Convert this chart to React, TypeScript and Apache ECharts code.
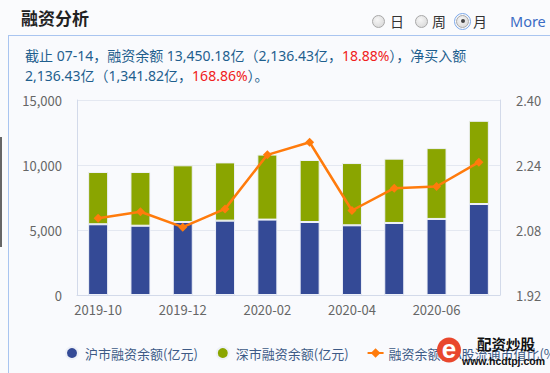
import React, { useEffect, useRef } from "react";
import * as echarts from "echarts";

const categories = ["2019-10", "2019-11", "2019-12", "2020-01", "2020-02", "2020-03", "2020-04", "2020-05", "2020-06", "2020-07"];
const shValues = [5440, 5330, 5615, 5720, 5800, 5615, 5360, 5540, 5850, 7000];
const szValues = [4020, 4130, 4360, 4480, 5000, 4770, 4790, 4950, 5450, 6400];
const ratioValues = [2.109, 2.125, 2.087, 2.132, 2.265, 2.296, 2.128, 2.183, 2.187, 2.247];
const leftTicks = { min: 0, max: 15000, interval: 5000 };
const rightTicks = { min: 1.92, max: 2.4, interval: 0.16 };

const FONT = "'Noto Sans CJK SC', 'Noto Sans', sans-serif";
const MIXED = "'Noto Sans', 'Noto Sans CJK SC', sans-serif";

function Radio({ checked }: { checked?: boolean }) {
  return (
    <span
      style={{
        display: "inline-block",
        width: 13,
        height: 13,
        borderRadius: "50%",
        border: "1px solid #a8a8a8",
        background: "radial-gradient(circle at 40% 35%, #f6f6f6, #d4d4d4)",
        position: "relative",
        verticalAlign: "middle",
        outline: checked ? "1px solid #7aa7e8" : "none",
        outlineOffset: 1,
        boxSizing: "border-box",
      }}
    >
      {checked ? (
        <span
          style={{
            position: "absolute",
            left: 3.5,
            top: 3.5,
            width: 4,
            height: 4,
            borderRadius: "50%",
            background: "#444",
          }}
        />
      ) : null}
    </span>
  );
}

export default function App() {
  const ref = useRef<HTMLDivElement>(null);
  useEffect(() => {
    if (!ref.current) return;
    const chart = echarts.init(ref.current, null, { renderer: "svg" });
    chart.setOption({
      animation: false,
      textStyle: { fontFamily: FONT },
      grid: { left: 77, right: 50, top: 100, bottom: 78 },
      legend: {
        left: 60,
        top: 341,
        width: 1000,
        itemGap: 18,
        itemWidth: 16,
        itemHeight: 12,
        textStyle: { color: "#3d5a86", fontSize: 13, fontFamily: FONT },
        data: [
          { name: "沪市融资余额(亿元)", icon: "circle" },
          { name: "深市融资余额(亿元)", icon: "circle" },
          { name: "融资余额占A股流通市值比(%)" },
        ],
      },
      xAxis: {
        type: "category",
        data: categories,
        boundaryGap: true,
        axisLine: { lineStyle: { color: "#d3daea" } },
        axisTick: { alignWithLabel: true, length: 4, lineStyle: { color: "#c8d0e2" } },
        axisLabel: { color: "#666", fontSize: 13, interval: 1, margin: 8 },
      },
      yAxis: [
        {
          type: "value",
          min: leftTicks.min,
          max: leftTicks.max,
          interval: leftTicks.interval,
          axisLine: { show: true, lineStyle: { color: "#d3daea" } },
          axisTick: { show: false },
          splitLine: { lineStyle: { color: "#e4e8f1" } },
          axisLabel: {
            color: "#666",
            fontSize: 13,
            margin: 15,
            formatter: (v: number) => v.toLocaleString("en-US"),
          },
        },
        {
          type: "value",
          min: rightTicks.min,
          max: rightTicks.max,
          interval: rightTicks.interval,
          axisLine: { show: true, lineStyle: { color: "#d3daea" } },
          axisTick: { show: false },
          splitLine: { show: false },
          axisLabel: {
            color: "#666",
            fontSize: 13,
            margin: 16,
            formatter: (v: number) => v.toFixed(2),
          },
        },
      ],
      series: [
        {
          name: "沪市融资余额(亿元)",
          type: "bar",
          stack: "total",
          data: shValues,
          barWidth: 20,
          itemStyle: { color: "#344a96", borderColor: "#eef1f8", borderWidth: 1 },
        },
        {
          name: "深市融资余额(亿元)",
          type: "bar",
          stack: "total",
          data: szValues,
          barWidth: 20,
          itemStyle: { color: "#8aa500", borderColor: "#eef1f8", borderWidth: 1 },
        },
        {
          name: "融资余额占A股流通市值比(%)",
          type: "line",
          yAxisIndex: 1,
          data: ratioValues,
          symbol: "diamond",
          symbolSize: 9,
          lineStyle: { color: "#ff7b0c", width: 2.5 },
          itemStyle: { color: "#ff7b0c" },
          z: 5,
        },
      ],
      graphic: [
        {
          type: "ellipse",
          shape: { cx: 449, cy: 350, rx: 12, ry: 12.5 },
          style: { fill: "#e9472d" },
          z: 100,
        },
        {
          type: "text",
          x: 449,
          y: 349,
          z: 101,
          style: { text: "e", fill: "#fff", fontSize: 26, fontWeight: "bold", align: "center", verticalAlign: "middle", fontFamily: "Arial" },
        },
        {
          type: "text",
          x: 477,
          y: 343,
          z: 101,
          style: { text: "配资炒股", fill: "#111", fontSize: 14.5, fontWeight: "bold", verticalAlign: "middle", fontFamily: FONT },
        },
        {
          type: "text",
          x: 462,
          y: 361,
          z: 101,
          style: { text: "www.hcdtpj.com", fill: "#111", fontSize: 10.5, fontWeight: "bold", verticalAlign: "middle", fontFamily: "Arial" },
        },
      ],
    });
    return () => chart.dispose();
  }, []);

  return (
    <div
      style={{
        position: "fixed",
        left: 0,
        top: 0,
        width: 550,
        height: 373,
        background: "#fafbfd",
        overflow: "hidden",
        fontFamily: FONT,
      }}
    >
      <div style={{ position: "absolute", left: 0, top: 137, width: 2, height: 110, background: "#666" }} />
      <div
        style={{
          position: "absolute",
          left: 21,
          top: 5,
          fontSize: 17,
          lineHeight: "26px",
          fontWeight: "bold",
          color: "#222",
        }}
      >
        融资分析
      </div>
      <div
        style={{
          position: "absolute",
          left: 372,
          top: 11,
          height: 20,
          fontSize: 14,
          color: "#333",
          display: "flex",
          alignItems: "center",
          whiteSpace: "nowrap",
        }}
      >
        <Radio />
        <span style={{ marginLeft: 5 }}>日</span>
        <span style={{ width: 11 }} />
        <Radio />
        <span style={{ marginLeft: 4 }}>周</span>
        <span style={{ width: 10 }} />
        <Radio checked />
        <span style={{ marginLeft: 4 }}>月</span>
        <span style={{ marginLeft: 23, color: "#3b6cc4", fontSize: 14.5, fontFamily: MIXED }}>More</span>
      </div>
      <div
        style={{
          position: "absolute",
          left: 8,
          top: 35,
          width: 560,
          height: 360,
          borderTop: "1.5px solid #a9c5f0",
          borderLeft: "1.5px solid #a9c5f0",
          background: "#f9fafd",
        }}
      />
      <div
        style={{
          position: "absolute",
          left: 25,
          top: 46,
          width: 520,
          fontSize: 14,
          lineHeight: "20px",
          color: "#1f5f8e",
          whiteSpace: "nowrap",
          fontFamily: MIXED,
        }}
      >
        截止 07-14，融资余额 13,450.18亿（2,136.43亿，<span style={{ color: "#f02020" }}>18.88%</span>），净买入额
        <br />
        2,136.43亿（1,341.82亿，<span style={{ color: "#f02020" }}>168.86%</span>）。
      </div>
      <div ref={ref} style={{ position: "absolute", left: 0, top: 0, width: 550, height: 373 }} />
    </div>
  );
}
